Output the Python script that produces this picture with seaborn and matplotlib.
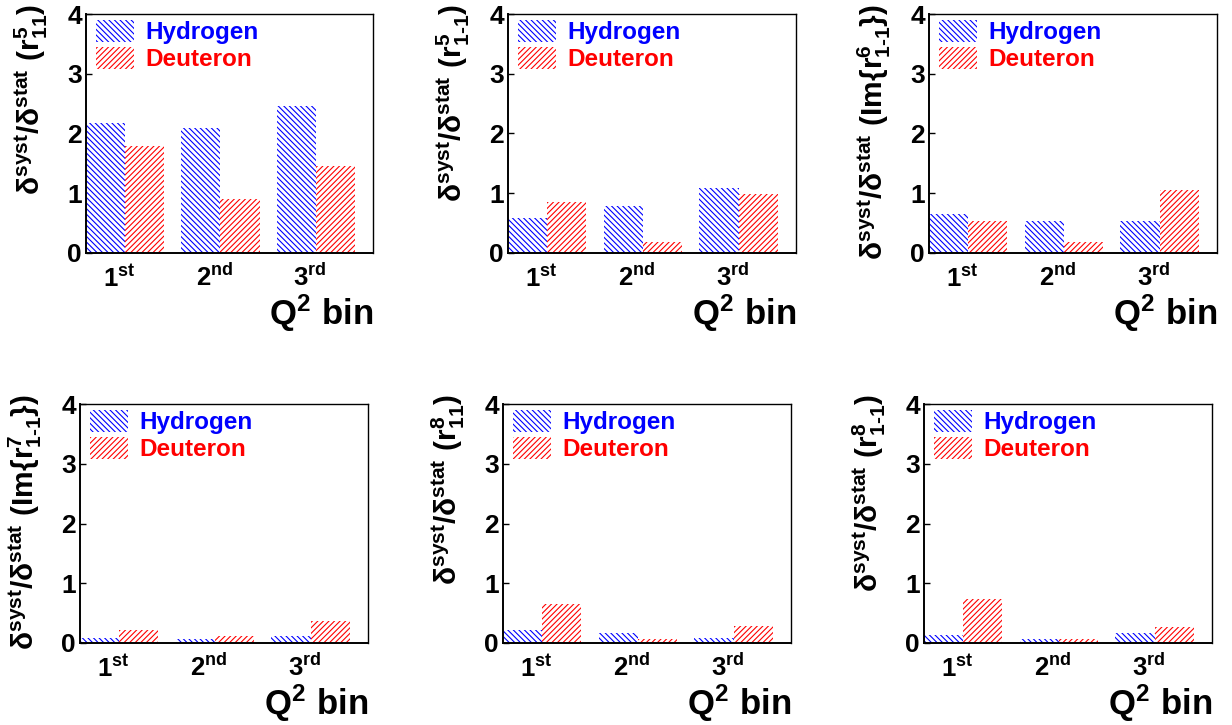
import matplotlib
matplotlib.use("Agg")
import matplotlib.pyplot as plt
import matplotlib.patches as mpatches
import numpy as np
import pandas as pd
import seaborn as sns

# Q^2 bins and the two targets
bins = ["1st", "2nd", "3rd"]
bin_labels = [r"$\mathbf{1^{st}}$", r"$\mathbf{2^{nd}}$", r"$\mathbf{3^{rd}}$"]
targets = ["Hydrogen", "Deuteron"]

# ratio of systematic to statistical uncertainty, per SDME and bin
r5_11_h = [2.18, 2.09, 2.46]
r5_11_d = [1.79, 0.90, 1.46]
r5_1m1_h = [0.59, 0.79, 1.09]
r5_1m1_d = [0.86, 0.18, 0.99]
im_r6_1m1_h = [0.65, 0.54, 0.54]
im_r6_1m1_d = [0.54, 0.18, 1.05]
im_r7_1m1_h = [0.08, 0.07, 0.11]
im_r7_1m1_d = [0.21, 0.12, 0.36]
r8_11_h = [0.21, 0.17, 0.09]
r8_11_d = [0.66, 0.06, 0.29]
r8_1m1_h = [0.14, 0.07, 0.17]
r8_1m1_d = [0.73, 0.06, 0.26]

ylabels = [
    r"$\mathrm{\delta}^{\mathbf{syst}}\mathbf{/}\mathrm{\delta}^{\mathbf{stat}}\ \mathbf{(r^{5}_{11})}$",
    r"$\mathrm{\delta}^{\mathbf{syst}}\mathbf{/}\mathrm{\delta}^{\mathbf{stat}}\ \mathbf{(r^{5}_{1\text{-}1})}$",
    r"$\mathrm{\delta}^{\mathbf{syst}}\mathbf{/}\mathrm{\delta}^{\mathbf{stat}}\ \mathbf{(Im\{r^{6}_{1\text{-}1}\})}$",
    r"$\mathrm{\delta}^{\mathbf{syst}}\mathbf{/}\mathrm{\delta}^{\mathbf{stat}}\ \mathbf{(Im\{r^{7}_{1\text{-}1}\})}$",
    r"$\mathrm{\delta}^{\mathbf{syst}}\mathbf{/}\mathrm{\delta}^{\mathbf{stat}}\ \mathbf{(r^{8}_{11})}$",
    r"$\mathrm{\delta}^{\mathbf{syst}}\mathbf{/}\mathrm{\delta}^{\mathbf{stat}}\ \mathbf{(r^{8}_{1\text{-}1})}$",
]
panels = [
    (r5_11_h, r5_11_d),
    (r5_1m1_h, r5_1m1_d),
    (im_r6_1m1_h, im_r6_1m1_d),
    (im_r7_1m1_h, im_r7_1m1_d),
    (r8_11_h, r8_11_d),
    (r8_1m1_h, r8_1m1_d),
]
yticks = [0, 1, 2, 3, 4]
xlabel = r"$\mathbf{Q^{2}\ bin}$"

colors = {"Hydrogen": "#0000ff", "Deuteron": "#ff0000"}
hatches = {"Hydrogen": "\\" * 6, "Deuteron": "/" * 6}

sns.set_theme(style="ticks")
plt.rcParams.update({
    "font.family": ["Liberation Sans", "DejaVu Sans"],
    "font.weight": "bold",
    "text.color": "black",
    "axes.labelcolor": "black",
    "axes.edgecolor": "black",
    "xtick.color": "black",
    "ytick.color": "black",
    "mathtext.fontset": "custom",
    "mathtext.rm": "Liberation Sans",
    "mathtext.bf": "Liberation Sans:bold",
    "mathtext.it": "Liberation Sans:italic",
    "mathtext.sf": "Liberation Sans",
    "hatch.linewidth": 0.8,
})

W, H = 1232, 725
fig = plt.figure(figsize=(W / 100, H / 100), dpi=100)

# axes boxes in pixels: left, right, top, bottom
boxes = [
    (86, 373, 14, 253), (508, 796, 14, 253), (929, 1217, 14, 253),
    (80, 368, 404, 643), (503, 791, 404, 643), (924, 1212, 404, 643),
]

# bin labels sit slightly left of the bar-pair centre (ticks themselves are hidden)
label_offset = -0.065

for (l, r, t, b), (hyd, deu), ylab in zip(boxes, panels, ylabels):
    ax = fig.add_axes([l / W, 1 - b / H, (r - l) / W, (b - t) / H])
    df = pd.DataFrame({
        "bin": bins * 2,
        "ratio": list(hyd) + list(deu),
        "target": [targets[0]] * 3 + [targets[1]] * 3,
    })
    sns.barplot(data=df, x="bin", y="ratio", hue="target", hue_order=targets,
                palette=colors, width=0.82, gap=0, saturation=1,
                legend=False, ax=ax)
    for cont, tgt in zip(ax.containers, targets):
        for p in cont:
            p.set_facecolor("white")
            p.set_edgecolor(colors[tgt])
            p.set_hatch(hatches[tgt])
            p.set_linewidth(0)

    ax.set_xlim(-0.41, 2.6)
    ax.set_ylim(0, 4)
    ax.set_yticks(yticks)
    ax.set_yticklabels([str(v) for v in yticks], fontsize=19, fontweight="bold")
    ax.set_xticks(np.arange(len(bins)) + label_offset)
    ax.set_xticklabels(bin_labels, fontsize=18.5)
    ax.tick_params(axis="x", length=0, pad=8)
    ax.tick_params(axis="y", direction="in", length=4, width=1, pad=3)
    for side in ["left", "bottom"]:
        ax.spines[side].set_linewidth(1.4)
    for side in ["top", "right"]:
        ax.spines[side].set_linewidth(1.0)
        ax.spines[side].set_visible(True)

    ax.set_xlabel(xlabel, fontsize=25)
    ax.xaxis.label.set_ha("right")
    ax.xaxis.label.set_va("baseline")
    ax.xaxis.set_label_coords(1.0, -0.30)

    ax.set_ylabel(ylab, fontsize=21.5, loc="top")
    ax.yaxis.label.set_va("bottom")
    ax.yaxis.set_label_coords(-0.125, 1.04)

    handles = [mpatches.Patch(facecolor="white", edgecolor=colors[t],
                              hatch=hatches[t], linewidth=0, label=t)
               for t in targets]
    leg = ax.legend(handles=handles, loc="upper left",
                    bbox_to_anchor=(10 / (r - l), 1 - 6 / (b - t)),
                    frameon=False, borderaxespad=0, borderpad=0,
                    handlelength=1.55, handleheight=1.02,
                    handletextpad=0.5, labelspacing=0.1,
                    prop={"size": 17.5, "weight": "bold"})
    for txt, t in zip(leg.get_texts(), targets):
        txt.set_color(colors[t])

fig.savefig("out.png", dpi=100)
